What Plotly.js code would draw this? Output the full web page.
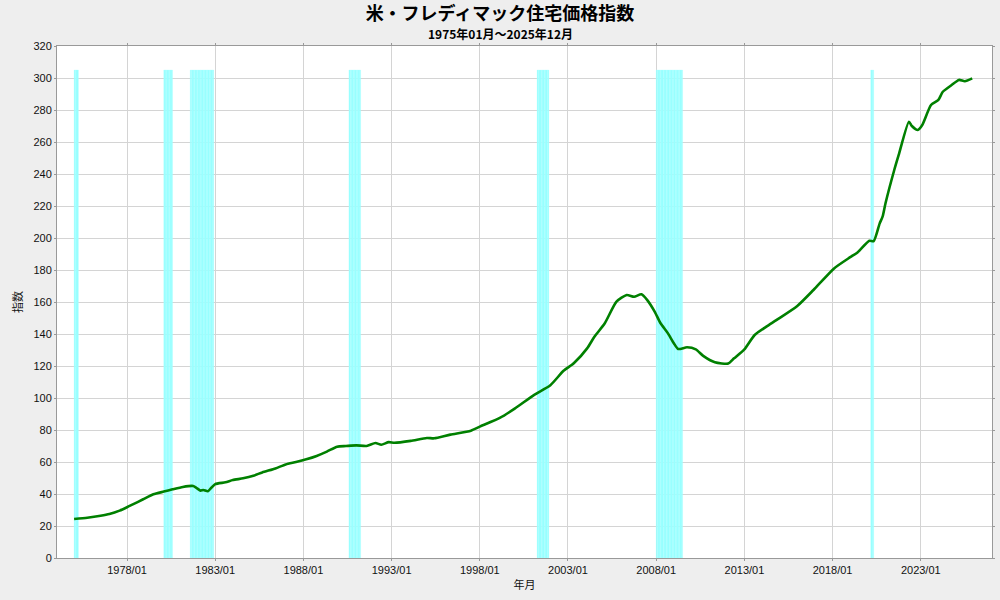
<!DOCTYPE html>
<html>
<head>
<meta charset="utf-8">
<script src="https://cdn.plot.ly/plotly-3.0.1.min.js"></script>
<style>html,body{margin:0;padding:0;background:#eeeeee;}#chart{width:1000px;height:600px;}</style>
</head>
<body>
<div id="chart"></div>
<script>
// House price index
const months = [
  "1975-01","1975-10","1976-07","1977-01","1977-08","1978-01","1978-05","1978-12","1979-07","1980-02",
  "1980-08","1981-03","1981-10","1981-12","1982-03","1982-05","1982-08","1982-10","1983-01","1983-08",
  "1984-01","1984-08","1985-03","1985-09","1986-06","1987-01","1987-08","1988-03","1988-10","1989-05",
  "1989-12","1990-06","1991-01","1991-08","1992-02","1992-06","1992-11","1993-03","1994-02","1995-01",
  "1995-06","1996-05","1997-07","1998-01","1999-03","2000-01","2001-02","2002-01","2002-10","2003-05",
  "2004-02","2004-07","2005-02","2005-10","2006-05","2006-10","2007-03","2007-07","2007-12","2008-04",
  "2008-09","2009-01","2009-04","2009-10","2010-04","2010-09","2011-05","2012-02","2012-06","2013-01",
  "2013-08","2014-04","2014-11","2016-01","2016-12","2018-02","2019-01","2019-06","2020-02","2020-05",
  "2020-09","2020-11","2021-01","2021-07","2021-10","2022-05","2022-07","2022-11","2023-02","2023-08",
  "2024-01","2024-04","2024-10","2025-03","2025-07","2025-12"
];
const indexValues = [
  24.4,25.2,26.4,27.5,29.6,31.7,33.5,36.7,39.8,41.5,
  42.9,44.4,45.0,44.0,42.1,42.5,41.7,43.5,46.2,47.3,
  48.7,49.8,51.4,53.5,56.0,58.5,60.0,61.7,63.8,66.5,
  69.6,70.0,70.4,70.0,71.9,70.8,72.4,72.0,73.2,75.0,
  74.8,77.1,79.6,82.1,87.7,93.5,102.0,108.0,117.0,121.7,
  131.0,138.3,146.7,160.2,164.4,163.3,164.8,161.2,154.0,146.7,
  140.4,134.2,130.6,131.7,130.4,126.3,122.3,121.5,124.8,130.4,
  139.4,144.6,148.8,157.5,167.5,181.0,188.0,191.0,198.3,198.0,
  209.0,213.3,221.7,242.5,251.9,272.7,270.0,267.5,270.6,283.1,
  286.3,291.4,295.6,298.8,298.0,299.8
];
// Recession periods (first month, last month)
const recessionStarts = ["1975-01","1980-02","1981-08","1990-08","2001-04","2008-01","2020-03"];
const recessionEnds   = ["1975-03","1980-07","1982-11","1991-03","2001-11","2009-06","2020-04"];
const recessionHeight = 305;
// Axis ticks
const xTickVals = ["1978-01-01","1983-01-01","1988-01-01","1993-01-01","1998-01-01","2003-01-01","2008-01-01","2013-01-01","2018-01-01","2023-01-01"];
const xTickText = ["1978/01","1983/01","1988/01","1993/01","1998/01","2003/01","2008/01","2013/01","2018/01","2023/01"];

// expand recession periods into single months
const recMonths = [], recVals = [];
for (let i = 0; i < recessionStarts.length; i++) {
  let [y, m] = recessionStarts[i].split("-").map(Number);
  const [ey, em] = recessionEnds[i].split("-").map(Number);
  while (y < ey || (y === ey && m <= em)) {
    recMonths.push(y + "-" + String(m).padStart(2, "0") + "-01");
    recVals.push(recessionHeight);
    m++; if (m > 12) { m = 1; y++; }
  }
}
const MONTH_MS = 30.44 * 24 * 3600 * 1000;

const font = "Liberation Sans, Arial, Noto Sans CJK JP, sans-serif";
const cjk = "Noto Sans CJK JP, sans-serif";

const traces = [
  {
    type: "bar", x: recMonths, y: recVals, width: MONTH_MS, offset: 0,
    marker: { color: "#94ffff", line: { color: "#b4ffff", width: 0.3 } },
    hoverinfo: "skip", showlegend: false
  },
  {
    type: "scatter", mode: "lines", x: months, y: indexValues,
    line: { color: "#008000", width: 2.6, shape: "spline", smoothing: 0.6 },
    showlegend: false
  }
];

const layout = {
  width: 1000, height: 600,
  margin: { l: 57, r: 8, t: 46, b: 42 },
  paper_bgcolor: "#eeeeee", plot_bgcolor: "#ffffff",
  bargap: 0,
  title: {
    text: "<b>米・フレディマック住宅価格指数</b>",
    font: { family: cjk, size: 18, color: "#000" },
    x: 0.5, xanchor: "center", y: 0.977, yanchor: "middle"
  },
  annotations: [
    { text: "<b>1975年01月～2025年12月</b>", xref: "paper", yref: "paper",
      x: (500 - 57) / 935, y: 1, yshift: 13, xanchor: "center", yanchor: "middle",
      showarrow: false, font: { family: cjk, size: 12, color: "#000" } }
  ],
  xaxis: {
    type: "date",
    range: ["1974-01-12", "2027-01-15"],
    tickvals: xTickVals, ticktext: xTickText,
    showgrid: true, gridcolor: "#d4d4d4", gridwidth: 1,
    showline: true, linecolor: "#999999", linewidth: 1, mirror: "ticks",
    ticks: "outside", ticklen: 2, tickcolor: "#999999",
    tickfont: { family: font, size: 11, color: "#111" },
    title: { text: "年月", font: { family: cjk, size: 11, color: "#111" }, standoff: 6 },
    zeroline: false, fixedrange: true
  },
  yaxis: {
    range: [0, 320], dtick: 20, tick0: 0,
    showgrid: true, gridcolor: "#d4d4d4", gridwidth: 1,
    showline: true, linecolor: "#999999", linewidth: 1, mirror: "ticks",
    ticks: "outside", ticklen: 2, tickcolor: "#999999",
    tickfont: { family: font, size: 11, color: "#111" },
    title: { text: "指数", font: { family: cjk, size: 11, color: "#111" }, standoff: 8 },
    zeroline: false, fixedrange: true
  },
  hovermode: false
};

Plotly.newPlot("chart", traces, layout, { displayModeBar: false, staticPlot: true });
</script>
</body>
</html>
